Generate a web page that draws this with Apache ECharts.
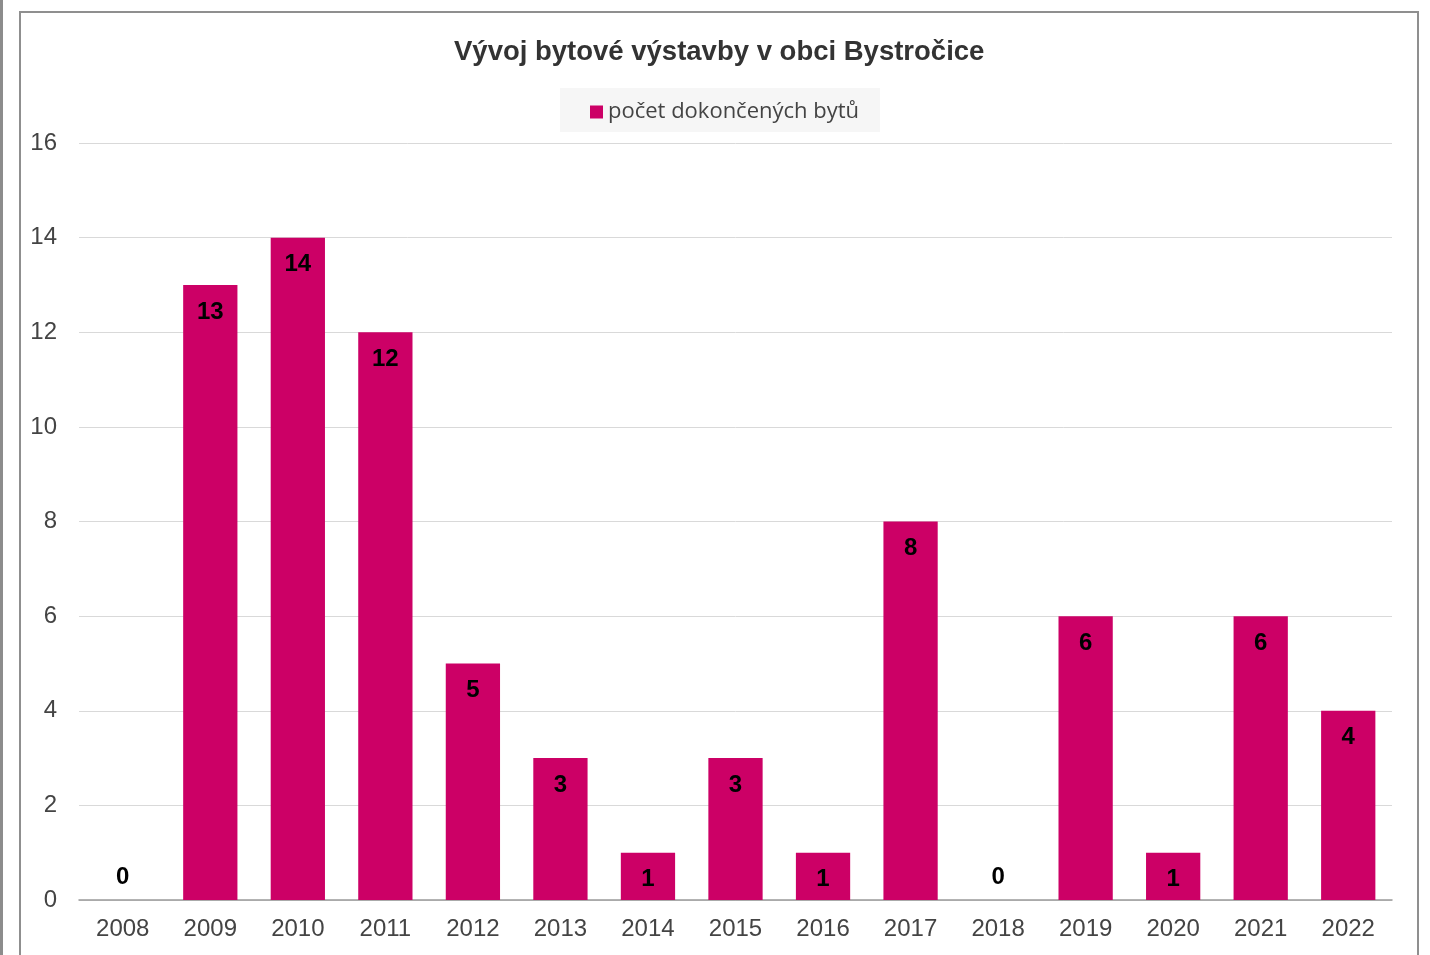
<!DOCTYPE html>
<html><head><meta charset="utf-8">
<script src="https://cdn.jsdelivr.net/npm/echarts@6/dist/echarts.min.js"></script>
<style>html,body{margin:0;padding:0;background:#fff}#c{width:1430px;height:955px}</style>
</head><body><div id="c"></div>
<script>
const titleText = 'Vývoj bytové výstavby v obci Bystročice';
const seriesName = 'počet dokončených bytů';
const years = ['2008','2009','2010','2011','2012','2013','2014','2015','2016','2017','2018','2019','2020','2021','2022'];
const values = [0,13,14,12,5,3,1,3,1,8,0,6,1,6,4];
const yTicks = [0,2,4,6,8,10,12,14,16];

const chart = echarts.init(document.getElementById('c'));
const data = values.map(v => v === 0 ? {value: v, label: {position: 'top', distance: 11}} : v);
chart.setOption({
  animation: false,
  graphic: [
    {type: 'rect', shape: {x: 0, y: 0, width: 3, height: 955}, style: {fill: '#8c8c8c'}},
    {type: 'rect', shape: {x: 20, y: 12, width: 1398, height: 960}, style: {fill: 'none', stroke: '#8f8f8f', lineWidth: 2}},
    {type: 'rect', shape: {x: 560, y: 88, width: 320, height: 44}, style: {fill: '#f6f6f6'}, z: -1}
  ],
  title: {
    text: titleText, left: 454, top: 38, padding: 0,
    textStyle: {fontFamily: 'Liberation Sans', fontWeight: 'bold', fontSize: 27.5, color: '#333333'}
  },
  legend: {
    top: 96, left: 585, itemWidth: 13, itemHeight: 13, itemGap: 6,
    icon: 'rect',
    textStyle: {fontFamily: 'Open Sans', fontSize: 22, color: '#444444'},
    data: [seriesName]
  },
  grid: {left: 79, right: 38, top: 143, bottom: 55, containLabel: false},
  xAxis: {
    type: 'category', data: years,
    axisLine: {lineStyle: {color: '#9a9a9a', width: 1.5}},
    axisTick: {show: false},
    axisLabel: {fontFamily: 'Liberation Sans', fontSize: 24, color: '#444444', margin: 17}
  },
  yAxis: {
    type: 'value', min: 0, max: 16, interval: 2,
    axisLine: {show: false}, axisTick: {show: false},
    axisLabel: {fontFamily: 'Liberation Sans', fontSize: 24, color: '#444444', margin: 22,
      formatter: v => yTicks.includes(v) ? String(v) : ''},
    splitLine: {lineStyle: {color: '#d9d9d9', width: 1}}
  },
  series: [{
    name: seriesName, type: 'bar', data: data, barWidth: '62%',
    itemStyle: {color: '#cc0066'},
    label: {show: true, position: 'insideTop', distance: 15,
      fontFamily: 'Liberation Sans', fontWeight: 'bold', fontSize: 24, color: '#000000'}
  }]
});
</script></body></html>
